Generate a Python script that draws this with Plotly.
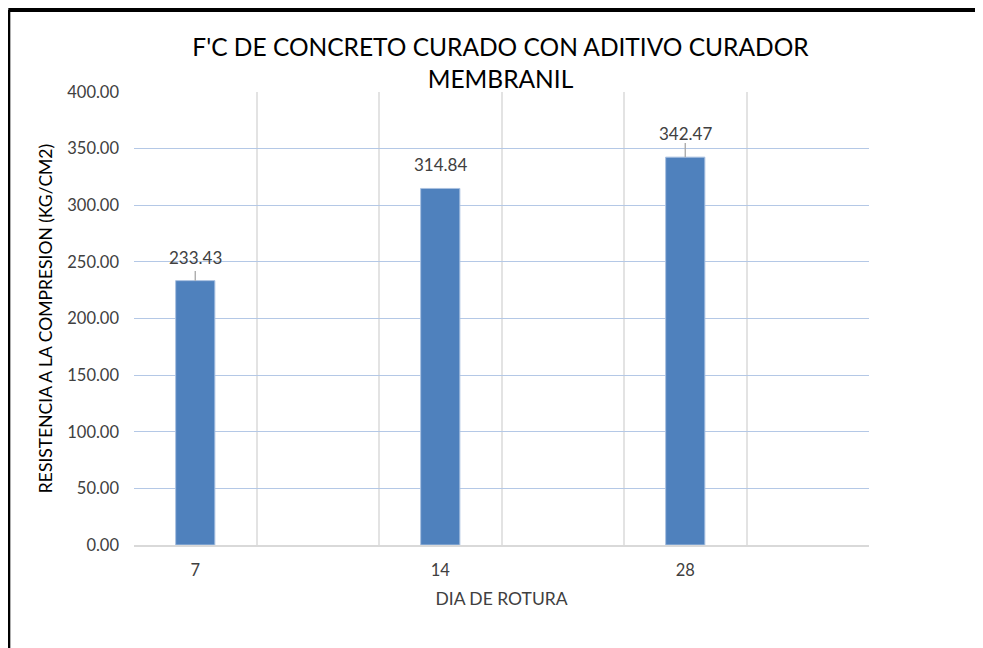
import plotly.graph_objects as go

# datos del ensayo
dias = ["7", "14", "28"]
resistencia = [233.43, 314.84, 342.47]
error = [8.5, 0, 12.4]
posicion = [0, 2, 4]  # los dias van en slots alternos, como en la hoja original

AZUL = "#4f81bd"
TXT = "#404040"
FUENTE = "Lato, Open Sans, sans-serif"

fig = go.Figure()
fig.add_trace(go.Bar(
    x=posicion, y=resistencia, width=0.32,
    marker=dict(color=AZUL, line=dict(color="#a9c0e0", width=1)),
    error_y=dict(type="data", array=error, arrayminus=[0] * len(error), visible=True,
                 color="#a6a6a6", thickness=1.3, width=0),
    hoverinfo="y",
))

# etiquetas sobre cada barra
for xi, v in zip(posicion, resistencia):
    fig.add_annotation(x=xi, y=v, text=f"{v:.2f}", showarrow=False,
                       yanchor="bottom", yshift=11,
                       font=dict(family=FUENTE, size=17, color=TXT))

# marco negro (arriba e izquierda)
fig.add_shape(type="line", xref="paper", yref="paper", x0=-0.171, x1=1.2, y0=1.181, y1=1.181,
              line=dict(color="black", width=4))
fig.add_shape(type="line", xref="paper", yref="paper", x0=-0.171, x1=-0.171, y0=1.181, y1=-0.3,
              line=dict(color="black", width=4))

fig.update_layout(
    width=983, height=648,
    margin=dict(l=126, r=122, t=84, b=111),
    paper_bgcolor="white", plot_bgcolor="white",
    showlegend=False,
    title=dict(text="F'C DE CONCRETO CURADO CON ADITIVO CURADOR<br>MEMBRANIL",
               x=0.501, xanchor="center", y=0.926, yanchor="top",
               font=dict(family=FUENTE, size=24.5, color="black")),
    font=dict(family=FUENTE, color=TXT),
)
fig.update_xaxes(
    range=[-0.5, 5.5], tickmode="array", tickvals=posicion, ticktext=dias,
    showgrid=False, zeroline=False, ticks="", ticklabelstandoff=9,
    showline=True, linecolor="#d9d9d9", linewidth=2,
    minor=dict(tick0=-0.5, dtick=1, showgrid=True, gridcolor="#e3e3e3", gridwidth=1.5, ticks=""),
    tickfont=dict(size=16.5, color=TXT),
    title=dict(text="DIA DE ROTURA", font=dict(size=17.5, color=TXT), standoff=14),
)
fig.update_yaxes(
    range=[0, 400], dtick=50, tickformat=".2f",
    showgrid=True, gridcolor="#b4c8e6", gridwidth=1.4, zeroline=False,
    ticks="", ticklabelstandoff=14, tickfont=dict(size=16.5, color=TXT),
    title=dict(text="RESISTENCIA A LA COMPRESION (KG/CM2)", font=dict(size=17.5, color="black"), standoff=10),
)

fig.write_html("out.html")
